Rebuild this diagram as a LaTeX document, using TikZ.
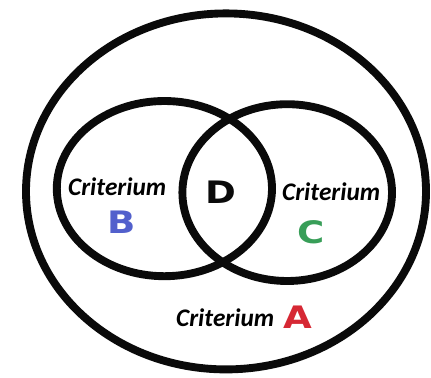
\documentclass[tikz,border=0pt]{standalone}
\usepackage{fontspec}
\usepackage{graphicx}
\usepackage{tikz}
\newfontfamily\critfont{Carlito}
\newfontfamily\letterfont{DejaVu Sans}
\definecolor{myred}{RGB}{214,40,52}
\definecolor{myblue}{RGB}{82,96,204}
\definecolor{mygreen}{RGB}{56,158,88}
\definecolor{mydark}{RGB}{10,10,10}
\tikzset{
  ring/.style={draw=mydark, line width=5.6pt},
  crit/.style={font=\critfont\bfseries\itshape\fontsize{18}{18}\selectfont, inner sep=0pt},
  letter/.style={font=\letterfont\bfseries\fontsize{22}{22}\selectfont, inner sep=0pt}
}
\newcommand{\wide}[1]{\scalebox{1.2}[1]{#1}}
\begin{document}
\begin{tikzpicture}
  \useasboundingbox (0,0) rectangle (10.775,9.425);
  % Centres
  \coordinate (cA) at (5.65,4.64);
  \coordinate (cB) at (4.11,4.71);
  \coordinate (cC) at (7.18,4.61);

  % Sets
  \draw[ring] (cA) ellipse (5.0 and 4.45);
  \draw[ring] (cB) ellipse (2.69 and 2.19);
  \draw[ring] (cC) ellipse (2.62 and 2.21);

  % Labels in B
  \node[crit] (critB) at (2.93,4.75) {Criterium};
  \node[letter, myblue] (labB) at (3.05,3.87) {\wide{B}};

  % Overlap
  \node[letter, mydark] (labD) at (5.53,4.62) {\wide{D}};

  % Labels in C
  \node[crit] (critC) at (8.28,4.62) {Criterium};
  \node[letter, mygreen] (labC) at (7.78,3.62) {\wide{C}};

  % Labels in A
  \node[crit] (critA) at (5.63,1.47) {Criterium};
  \node[letter, myred] (labA) at (7.45,1.5) {\wide{A}};
\end{tikzpicture}
\end{document}
